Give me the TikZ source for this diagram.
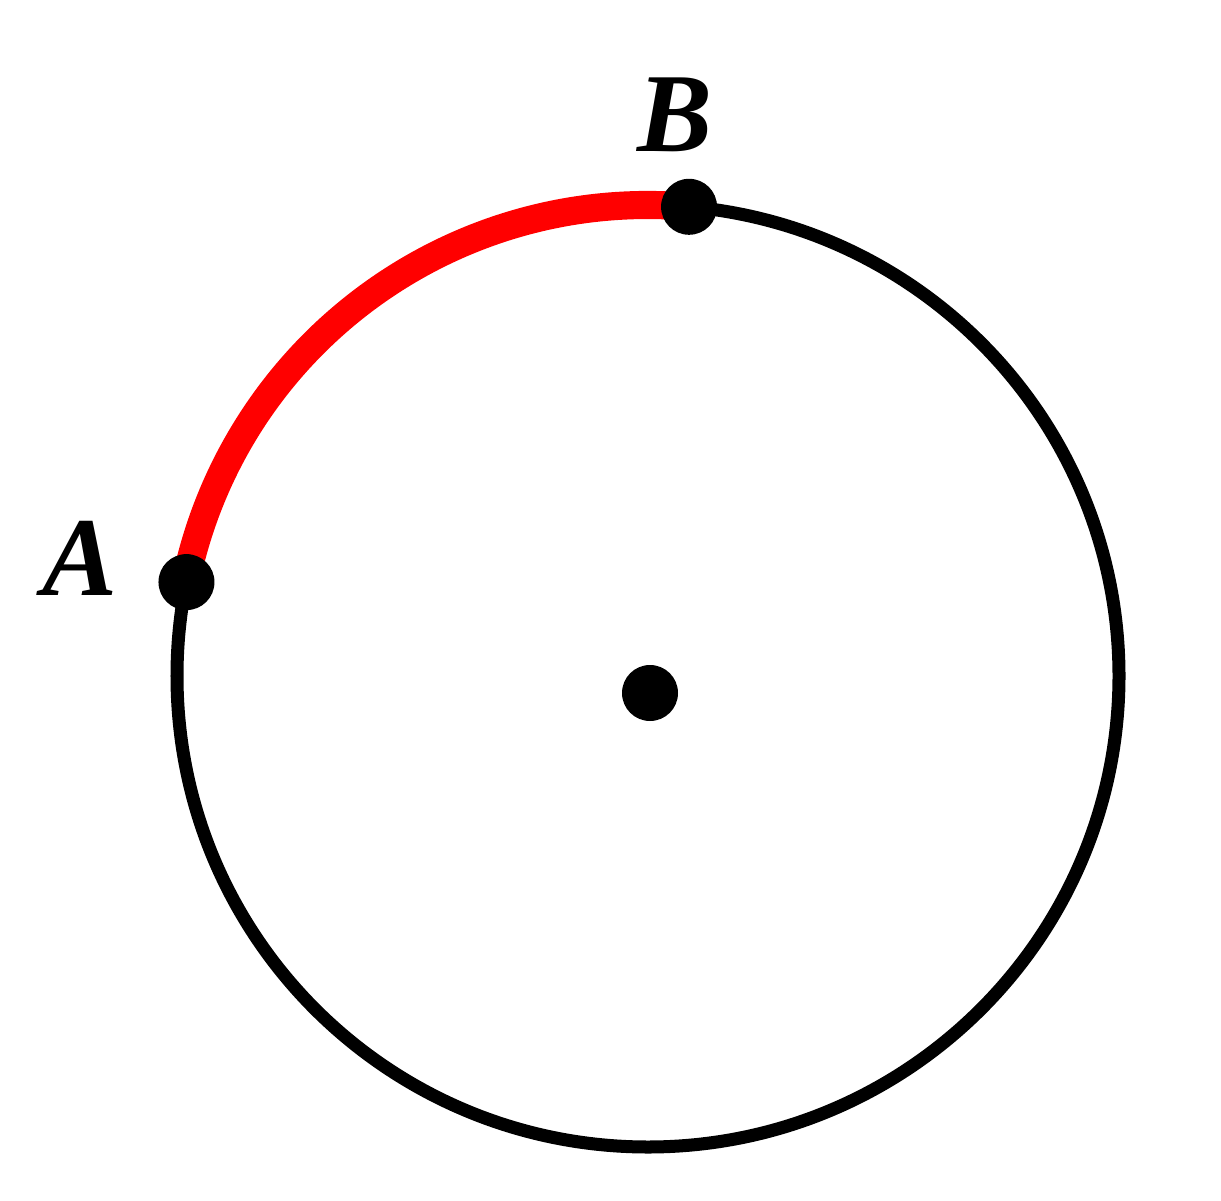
\documentclass[tikz,border=0pt]{standalone}
\usepackage{fontspec}
\setmainfont{Liberation Serif}
\usepackage{tikz}
\usetikzlibrary{calc}
\definecolor{arc-red}{HTML}{FF0000}

\begin{document}
\begin{tikzpicture}

    \useasboundingbox (0,0) rectangle (12.21,12);

    % circle
    \coordinate (C) at (6.48,5.24);
    \draw[line width=3.7pt] (C) circle (4.71);

    % end points of the arc
    \coordinate (A) at ($(C)+(168.5:4.71)$);
    \coordinate (B) at ($(C)+(85:4.71)$);

    % highlighted arc
    \draw[line width=8pt, color=arc-red] (B) arc[start angle=85, end angle=168.5, radius=4.72];

    % points
    \begin{scope}[every node/.style={circle, fill, inner sep=0pt, minimum size=5.6mm}]
        \node (a) at (A) {};
        \node (b) at (B) {};
        \node (o) at (6.50,5.07) {};
    \end{scope}

    % labels
    \begin{scope}[every node/.style={font=\fontsize{32}{32}\selectfont\bfseries\itshape}]
        \node (la) at (0.80,6.42) {A};
        \node (lb) at (6.75,10.85) {B};
    \end{scope}

\end{tikzpicture}
\end{document}
